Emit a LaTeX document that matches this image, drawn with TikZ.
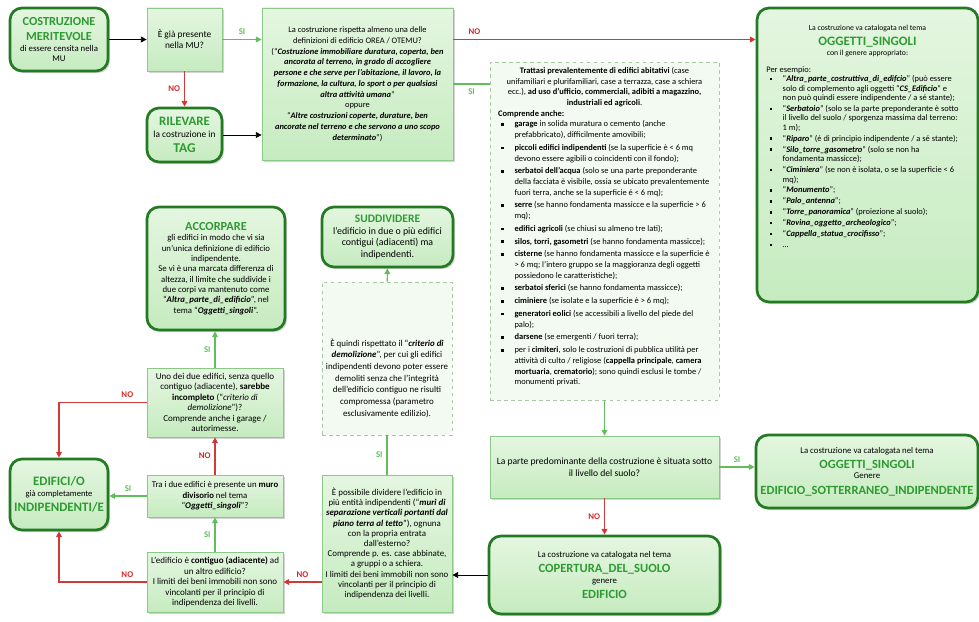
\documentclass[tikz,border=0pt]{standalone}
\usepackage{fontspec}
\setmainfont{Carlito}
\usepackage{enumitem}
\usetikzlibrary{arrows.meta,shadows}

\definecolor{boxtop}{HTML}{E4F6E0}
\definecolor{boxbot}{HTML}{C6EBC0}
\definecolor{notefill}{HTML}{F3FAF1}
\definecolor{darkgreen}{HTML}{237A23}
\definecolor{titlegreen}{HTML}{2E9A32}
\definecolor{linegreen}{HTML}{62BE5C}
\definecolor{askborder}{HTML}{8CC888}
\definecolor{noteborder}{HTML}{A9C9A4}
\definecolor{nored}{HTML}{D62828}
\definecolor{linered}{HTML}{CF3B3B}

\newcommand{\ttl}[2][10.5]{{\centering\fontsize{#1}{13}\selectfont\bfseries\color{titlegreen}#2\par}}
\newcommand{\bi}[1]{\textbf{\textit{#1}}}
\setlist[itemize]{nosep,leftmargin=14pt,labelsep=9pt,itemsep=1.3pt,label=\raisebox{0.3ex}{\rule{2.2pt}{2.2pt}}}
\hyphenpenalty=10000
\exhyphenpenalty=10000

\begin{document}
\begin{tikzpicture}[x=0.03cm,y=-0.03cm,
  txt/.style 2 args={font=\fontsize{#1}{#2}\selectfont},
  boxsize/.style 2 args={minimum width=#1cm,minimum height=#2cm,text width=#1cm-0.2cm},
  main box/.style={draw=darkgreen,line width=2.3pt,rounded corners=0.36cm,top color=boxtop,bottom color=boxbot,
    align=flush center,inner xsep=0.1cm,inner ysep=0.05cm,drop shadow={shadow xshift=0.06cm,shadow yshift=-0.06cm,opacity=0.35}},
  ask box/.style={draw=askborder,line width=0.6pt,top color=boxtop,bottom color=boxbot,
    align=flush center,inner xsep=0.1cm,inner ysep=0.05cm,drop shadow={shadow xshift=0.06cm,shadow yshift=-0.06cm,opacity=0.35}},
  note box/.style={draw=noteborder,dashed,line width=0.6pt,fill=notefill,align=flush center,inner xsep=0.1cm,inner ysep=0.05cm},
  yes line/.style={draw=linegreen,line width=1pt,-{Triangle[length=5pt,width=5pt]}},
  no line/.style={draw=linered,line width=1pt,-{Triangle[length=5pt,width=5pt,fill=nored]}},
  plain line/.style={draw=black,line width=0.8pt,-{Triangle[length=5pt,width=5pt]}},
  si tag/.style={text=linegreen,font=\fontsize{7.5}{9}\selectfont\bfseries},
  no tag/.style={text=nored,font=\fontsize{7.5}{9}\selectfont\bfseries},
  ]
  \useasboundingbox (0,0) rectangle (979,622);

  % top row
  \node[main box,txt={7.5}{9},boxsize={2.94}{1.89},text width=2.62cm] (merit) at (59,39.5) {\ttl{COSTRUZIONE MERITEVOLE}di essere censita nella MU};
  \node[ask box,txt={8}{9.5},boxsize={2.25}{1.89}] (gia) at (184.5,39.5) {È già presente nella MU?};
  \node[main box,txt={8}{9.5},boxsize={2.25}{1.62}] (rilev) at (184.5,135) {\ttl[11]{RILEVARE}la costruzione in\par\ttl[11.5]{TAG}};
  \node[ask box,txt={7.2}{9.2},boxsize={5.73}{4.56},text width=5.65cm,inner xsep=0.04cm] (defin) at (357.5,84) {
    La costruzione rispetta almeno una delle\\
    definizioni di edificio OREA / OTEMU?\\
    (“\bi{Costruzione immobiliare duratura, coperta, ben}\\
    \bi{ancorata al terreno, in grado di accogliere}\\
    \bi{persone e che serve per l’abitazione, il lavoro, la}\\
    \bi{formazione, la cultura, lo sport o per qualsiasi}\\
    \bi{altra attività umana}”\\
    oppure\\
    “\bi{Altre costruzioni coperte, durature, ben}\\
    \bi{ancorate nel terreno e che servono a uno scopo}\\
    \bi{determinato}”)};

  \node[main box,txt={7.2}{8.1},boxsize={6.63}{8.82},align=flush left,text width=6.07cm,inner xsep=0.28cm,
    text height=0.62cm,text depth=8.1cm] (ogg1) at (867.5,155) {
    {\centering\fontsize{6.6}{8.5}\selectfont La costruzione va catalogata nel tema\par}
    \ttl[11]{OGGETTI\_SINGOLI}
    {\centering\fontsize{6.6}{8.5}\selectfont con il genere appropriato:\par}
    \vspace{6pt}
    Per esempio:
    \begin{itemize}[itemsep=1.2pt]
      \item “\bi{Altra\_parte\_costruttiva\_di\_edifcio}” (può essere\\ solo di complemento agli oggetti “\bi{CS\_Edificio}” e\\ non può quindi essere indipendente / a sé stante);
      \item “\bi{Serbatoio}” (solo se la parte preponderante è sotto\\ il livello del suolo / sporgenza massima dal terreno:\\ 1 m);
      \item “\bi{Riparo}” (é di principio indipendente / a sé stante);
      \item “\bi{Silo\_torre\_gasometro}” (solo se non ha\\ fondamenta massicce);
      \item “\bi{Ciminiera}” (se non è isolata, o se la superficie < 6\\ mq);
      \item “\bi{Monumento}”;
      \item “\bi{Palo\_antenna}”;
      \item “\bi{Torre\_panoramica}” (proiezione al suolo);
      \item “\bi{Rovina\_oggetto\_archeologico}”;
      \item “\bi{Cappella\_statua\_crocifisso}”;
      \item …
    \end{itemize}};

  \node[note box,txt={7.2}{9.1},boxsize={6.87}{10.14},align=flush left,text width=6.38cm,inner xsep=0.245cm,
    text height=0.3cm,text depth=9.74cm] (note1) at (604.5,231) {
    {\centering\textbf{Trattasi prevalentemente di edifici abitativi} (case\\ unifamiliari e plurifamiliari, case a terrazza, case a schiera\\ ecc.), \textbf{ad uso d’ufficio, commerciali, adibiti a magazzino,}\\ \textbf{industriali ed agricoli}.\par}
    \textbf{Comprende anche:}
    \begin{itemize}[itemsep=1.8pt]
      \item \textbf{garage} in solida muratura o cemento (anche prefabbricato), difficilmente amovibili;
      \item \textbf{piccoli edifici indipendenti} (se la superficie è < 6 mq devono essere agibili o coincidenti con il fondo);
      \item \textbf{serbatoi dell’acqua} (solo se una parte preponderante della facciata è visibile, ossia se ubicato prevalentemente fuori terra, anche se la superficie é < 6 mq);
      \item \textbf{serre} (se hanno fondamenta massicce e la superficie > 6 mq);
      \item \textbf{edifici agricoli} (se chiusi su almeno tre lati);
      \item \textbf{silos, torri, gasometri} (se hanno fondamenta massicce);
      \item \textbf{cisterne} (se hanno fondamenta massicce e la superficie è > 6 mq; l’intero gruppo se la maggioranza degli oggetti possiedono le caratteristiche);
      \item \textbf{serbatoi sferici} (se hanno fondamenta massicce);
      \item \textbf{ciminiere} (se isolate e la superficie è > 6 mq);
      \item \textbf{generatori eolici} (se accessibili a livello del piede del palo);
      \item \textbf{darsene} (se emergenti / fuori terra);
      \item per i \textbf{cimiteri}, solo le costruzioni di pubblica utilità per attività di culto / religiose (\textbf{cappella principale}, \textbf{camera mortuaria}, \textbf{crematorio}); sono quindi esclusi le tombe / monumenti privati.
    \end{itemize}};

  % lower right
  \node[ask box,txt={8.2}{10},boxsize={6.87}{1.86},text width=6.6cm] (sotto) at (604.5,467) {La parte predominante della costruzione è situata sotto il livello del suolo?};
  \node[main box,txt={7.5}{9},boxsize={6.66}{2.19}] (ogg2) at (867,471.5) {La costruzione va catalogata nel tema\par\ttl[10.7]{OGGETTI\_SINGOLI}Genere\par\ttl[10.7]{EDIFICIO\_SOTTERRANEO\_INDIPENDENTE}};
  \node[main box,txt={7.5}{9},boxsize={6.93}{2.34}] (copert) at (604.5,575) {La costruzione va catalogata nel tema\par\ttl[10.7]{COPERTURA\_DEL\_SUOLO}genere\par\ttl[10.7]{EDIFICIO}};

  % middle column
  \node[ask box,txt={7.6}{8.7},boxsize={3.9}{4.11},text width=3.85cm,inner xsep=0.025cm] (divid) at (387,543.5) {È possibile dividere l’edificio in\\ più entità indipendenti (“\bi{muri di}\\ \bi{separazione verticali portanti dal}\\ \bi{piano terra al tetto}”), ognuna\\ con la propria entrata\\ dall’esterno?\\
    Comprende p. es. case abbinate,\\ a gruppi o a schiera.\\
    I limiti dei beni immobili non sono\\ vincolanti per il principio di\\ indipendenza dei livelli.};
  \node[note box,txt={7.6}{10},boxsize={3.9}{4.59},text width=3.85cm,inner xsep=0.025cm,
    text height=1.87cm,text depth=2.62cm] (note2) at (387,358.5) {È quindi rispettato il “\bi{criterio di}\\ \bi{demolizione}”, per cui gli edifici\\ indipendenti devono poter essere\\ demoliti senza che l’integrità\\ dell’edificio contiguo ne risulti\\ compromessa (parametro\\ esclusivamente edilizio).};
  \node[main box,txt={8.4}{10},boxsize={3.93}{1.8},text width=3.65cm] (suddiv) at (387.5,237) {\ttl[9.8]{SUDDIVIDERE}l’edificio in due o più edifici contigui (adiacenti) ma indipendenti.};

  % left column
  \node[ask box,txt={7.7}{9},boxsize={4.08}{1.8}] (contig) at (215,582) {L’edificio è \textbf{contiguo (adiacente)} ad un altro edificio?\\
    I limiti dei beni immobili non sono vincolanti per il principio di indipendenza dei livelli.};
  \node[ask box,txt={7.5}{9},boxsize={4.08}{1.26}] (trai) at (215,496) {Tra i due edifici è presente un \textbf{muro divisorio} nel tema “\bi{Oggetti\_singoli}”?};
  \node[ask box,txt={7.7}{9},boxsize={4.08}{2.07}] (uno) at (215,402.5) {Uno dei due edifici, senza quello contiguo (adiacente), \textbf{sarebbe incompleto} (“\textit{criterio di demolizione}”)?\\
    Comprende anche i garage / autorimesse.};
  \node[main box,txt={7.5}{8.8},boxsize={4.14}{3.69},text width=3.62cm] (accorp) at (216,268.5) {\ttl{ACCORPARE}gli edifici in modo che vi sia un’unica definizione di edificio indipendente.\\
    Se vi è una marcata differenza di altezza, il limite che suddivide i due corpi va mantenuto come “\bi{Altra\_parte\_di\_edificio}”, nel tema “\bi{Oggetti\_singoli}”.};
  \node[main box,txt={7.3}{9},boxsize={2.94}{2.13}] (edifici) at (59,494.5) {\ttl[11]{EDIFICI/O}già completamente\par\ttl[11]{INDIPENDENTI/E}};

  \draw[plain line] (merit) -- (gia);
  \draw[yes line] (gia) -- (gia -| defin.west) node[si tag,midway,above] {SI};
  \draw[no line] (gia) -- (rilev) node[no tag,midway,left] {NO};
  \draw[plain line] (rilev) -- (rilev -| defin.west);
  \draw[no line] (defin.east |- merit) -- (ogg1.west |- merit) node[no tag,pos=0.07,above] {NO};
  \draw[yes line,-] (defin) -- (defin -| note1.west) node[si tag,midway,below] {SI};
  \draw[yes line] (note1) -- (sotto);
  \draw[yes line] (sotto.east) -- (sotto.east -| ogg2.west) node[si tag,midway,above] {SI};
  \draw[no line] (sotto) -- (copert) node[no tag,midway,left] {NO};
  \draw[plain line] (copert.west) -- (copert.west -| divid.east);
  \draw[yes line,-] (divid) -- (note2) node[si tag,midway,left] {SI};
  \draw[yes line] (note2) -- (suddiv);
  \draw[no line] (divid.west |- contig) -- (contig) node[no tag,midway,above] {NO};
  \draw[no line] (contig) -| (edifici) node[no tag,pos=0.11,above] {NO};
  \draw[yes line] (contig) -- (trai) node[si tag,midway,left] {SI};
  \draw[yes line] (trai.west) -- (trai.west -| edifici.east) node[si tag,midway,above] {SI};
  \draw[no line] (trai) -- (uno) node[no tag,midway,left] {NO};
  \draw[yes line] (uno.north) -- (uno.north |- accorp.south) node[si tag,midway,left] {SI};
  \draw[no line] (uno) -| (edifici) node[no tag,pos=0.11,above] {NO};
\end{tikzpicture}
\end{document}
